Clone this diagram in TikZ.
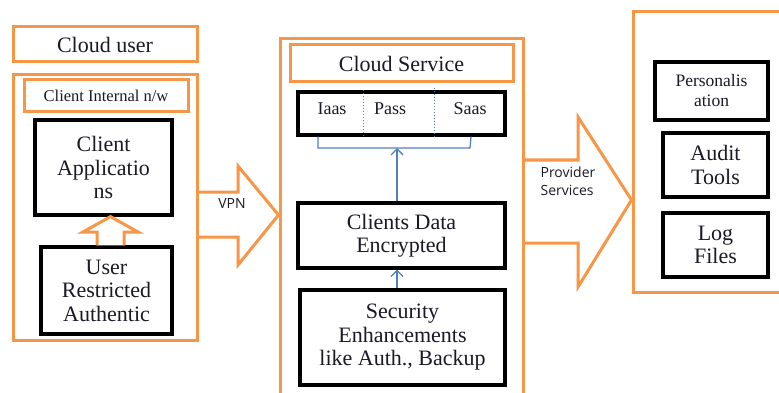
\documentclass[tikz,border=0pt]{standalone}
\usepackage{fontspec}
\setmainfont{Liberation Serif}
\newfontfamily\osans{Open Sans}
\usetikzlibrary{arrows.meta,calc}
\definecolor{orng}{HTML}{F79646}
\definecolor{lblue}{HTML}{4F81BD}
\definecolor{txt}{HTML}{1A1A26}
\begin{document}
\begin{tikzpicture}[x=1pt,y=-1pt,
  obox/.style={draw=orng,line width=3pt,inner sep=0pt,align=center,text=txt},
  bbox/.style={draw=black,line width=3.2pt,inner sep=0pt,align=center,fill=white,text=txt},
  big/.style={font=\fontsize{22}{23.5}\selectfont},
  mid/.style={font=\fontsize{18}{21}\selectfont,text=txt,inner sep=0pt},
  small/.style={font=\fontsize{16.5}{18}\selectfont},
  perso/.style={font=\fontsize{17.5}{20}\selectfont},
  sanslbl/.style={font=\osans\fontsize{14}{18}\selectfont,text=txt,align=left,inner sep=0pt},
  blockarrow/.style={draw=orng,line width=3pt,line join=miter},
  blink/.style={draw=lblue,line width=1.3pt},
  bluetip/.style={-{Straight Barb[length=6pt,width=12pt,line width=1.3pt]}},
  divider/.style={draw=lblue,line width=1pt,dotted}
]
\clip (0,0) rectangle (779,393);
\fill[white] (0,0) rectangle (779,393);

% ---------- left: cloud user ----------
\node[obox,big,minimum width=184,minimum height=35] (clouduser) at (105,44.5) {Cloud user};
\node[obox,minimum width=184,minimum height=265] (clientouter) at (105,207.5) {};
\node[obox,small,minimum width=164,minimum height=32] (clientnet) at (106,96) {Client Internal n/w};
\node[bbox,big,minimum width=137,minimum height=95] (clientapp) at (103.5,167.5) {Client\\Applicatio\\ns};
\node[bbox,big,minimum width=131,minimum height=87] (userauth) at (106.5,290.5) {User\\Restricted\\Authentic};

% hollow up arrow
\draw[blockarrow,fill=white] (97,0 |- userauth.north) -- (97,232) -- (83,232)
  -- (110.5,0 |- clientapp.south) -- (138,232) -- (124,232) -- (124,0 |- userauth.north);

% ---------- middle: cloud service ----------
\node[obox,minimum width=243,minimum height=381] (cloudsvc) at (401.5,229.5) {};
\node[obox,big,minimum width=223,minimum height=37] (svctitle) at (401.5,63.5) {Cloud Service};
\node[bbox,minimum width=207,minimum height=43] (svcbox) at (401.5,113.5) {};
\draw[divider] (363,0 |- svcbox.north) -- (363,0 |- svcbox.south);
\draw[divider] (434,88) -- (434,0 |- svcbox.south);
\node[mid] (iaas) at (332,109) {Iaas};
\node[mid] (pass) at (390,109) {Pass};
\node[mid] (saas) at (470,109) {Saas};

\coordinate (brk) at (397,148);
\draw[blink] (318,0 |- svcbox.south) -- (318,148) -- (470,148) -- (471,0 |- svcbox.south);

\node[bbox,big,minimum width=207,minimum height=65] (dataenc) at (401.5,235.5) {Clients Data\\Encrypted};
\node[bbox,big,minimum width=205,minimum height=95] (security) at (402.5,337.5) {Security\\Enhancements\\like Auth., Backup};

\draw[blink,bluetip] (397,0 |- dataenc.north) -- (brk);
\draw[blink,bluetip] (397,0 |- security.north) -- (397,0 |- dataenc.south);

% VPN arrow
\draw[blockarrow] (clientouter.east |- 0,192) -- (238,192) -- (238,166)
  -- (cloudsvc.west |- 0,215) -- (238,265) -- (238,237) -- (clientouter.east |- 0,237);
\node[sanslbl] (vpn) at (232,204) {VPN};

% ---------- right: provider side ----------
\node[obox,minimum width=187,minimum height=280] (rightbox) at (726.5,152) {};
\node[bbox,perso,minimum width=113,minimum height=58] (personal) at (711.5,91) {Personalis\\ation};
\node[bbox,big,minimum width=105,minimum height=64] (audit) at (715.5,165) {Audit\\Tools};
\node[bbox,big,minimum width=105,minimum height=64] (logfiles) at (715.5,245) {Log\\Files};

% Provider services arrow
\draw[blockarrow] (cloudsvc.east |- 0,160) -- (578,160) -- (578,117)
  -- (rightbox.west |- 0,200) -- (578,287) -- (578,243) -- (cloudsvc.east |- 0,243);
\node[sanslbl] (prov) at (568,181) {Provider\\Services};
\end{tikzpicture}
\end{document}
